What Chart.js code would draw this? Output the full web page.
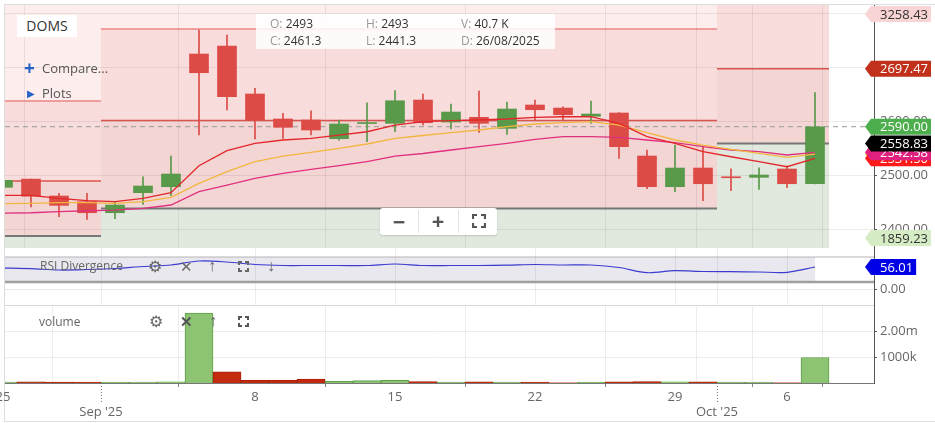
<!DOCTYPE html>
<html>
<head>
<meta charset="utf-8">
<script src="https://cdn.jsdelivr.net/npm/chart.js@4.4.1/dist/chart.umd.min.js"></script>
<style>
  body { margin: 0; background: #fff; font-family: "Open Sans", sans-serif; }
  #wrap { position: relative; width: 935px; height: 423px; overflow: hidden; }
  #frame { position: absolute; left: 4px; top: 4px; width: 940px; height: 416px;
           border-left: 1px solid #ddd; border-top: 1px solid #ddd; border-bottom: 1px solid #ddd; }
  canvas { position: absolute; left: 0; }
  .ov { position: absolute; white-space: nowrap; }
  .ov svg { display: block; }
  .sym { color: #666; }
</style>
</head>
<body>
<div id="wrap">
  <div id="frame"></div>
  <canvas id="priceChart" width="935" height="250" style="top:0"></canvas>
  <canvas id="rsiChart" width="935" height="57" style="top:248px"></canvas>
  <canvas id="volChart" width="935" height="125" style="top:298px"></canvas>

  <!-- overlays -->
  <div class="ov" style="left:17px;top:15px;width:60px;height:22px;background:#fff;text-align:center;line-height:22px;font-size:14px;color:#333">DOMS</div>
  <div class="ov" style="left:24px;top:57px;line-height:22px;font-size:19px;color:#2563c9;font-weight:bold">+</div>
  <div class="ov" style="left:42px;top:58px;line-height:20px;font-size:13px;color:#555">Compare...</div>
  <div class="ov" style="left:27px;top:84px;line-height:18px;font-size:10px;color:#2563c9">&#9654;</div>
  <div class="ov" style="left:42px;top:83px;line-height:20px;font-size:13px;color:#555">Plots</div>

  <div class="ov" style="left:256px;top:14px;width:299px;height:35px;background:rgba(255,255,255,0.85)"></div>
  <div class="ov" style="left:270px;top:16px;line-height:16px;font-size:12px"><span style="color:#999">O:</span> <span style="color:#333">2493</span></div>
  <div class="ov" style="left:366px;top:16px;line-height:16px;font-size:12px"><span style="color:#999">H:</span> <span style="color:#333">2493</span></div>
  <div class="ov" style="left:461px;top:16px;line-height:16px;font-size:12px"><span style="color:#999">V:</span> <span style="color:#333">40.7 K</span></div>
  <div class="ov" style="left:270px;top:33px;line-height:16px;font-size:12px"><span style="color:#999">C:</span> <span style="color:#333">2461.3</span></div>
  <div class="ov" style="left:366px;top:33px;line-height:16px;font-size:12px"><span style="color:#999">L:</span> <span style="color:#333">2441.3</span></div>
  <div class="ov" style="left:461px;top:33px;line-height:16px;font-size:12px"><span style="color:#999">D:</span> <span style="color:#333">26/08/2025</span></div>

  <div class="ov" style="left:380px;top:208px;width:117px;height:27px;background:#fff;border-radius:3px;box-shadow:0 1px 2px rgba(0,0,0,0.15)"></div>
  <div class="ov" style="left:418px;top:210px;width:1px;height:23px;background:#e4e4e4"></div>
  <div class="ov" style="left:458px;top:210px;width:1px;height:23px;background:#e4e4e4"></div>
  <div class="ov" style="left:390px;top:208px;width:18px;line-height:27px;font-size:22px;font-weight:bold;color:#555;text-align:center">&minus;</div>
  <div class="ov" style="left:429px;top:207px;width:18px;line-height:27px;font-size:22px;font-weight:bold;color:#555;text-align:center">+</div>
  <div class="ov" style="left:472px;top:214px"><svg width="14" height="14" viewBox="0 0 14 14"><path d="M1 5V1h4M9 1h4v4M13 9v4H9M5 13H1V9" fill="none" stroke="#555" stroke-width="2.2"/></svg></div>

  <div class="ov" style="left:40px;top:258px;line-height:16px;font-size:12px;color:#666">RSI Divergence</div>
  <div class="ov sym" style="left:148px;top:257px;line-height:18px;font-size:16px">&#9881;</div>
  <div class="ov sym" style="left:180px;top:257px;line-height:18px;font-size:15px">&#10005;</div>
  <div class="ov sym" style="left:208px;top:256px;line-height:18px;font-size:16px">&#8593;</div>
  <div class="ov" style="left:238px;top:261px"><svg width="11" height="11" viewBox="0 0 11 11"><path d="M1 4V1h3M7 1h3v3M10 7v3H7M4 10H1V7" fill="none" stroke="#666" stroke-width="2"/></svg></div>
  <div class="ov sym" style="left:267px;top:256px;line-height:18px;font-size:16px">&#8595;</div>

  <div class="ov" style="left:39px;top:314px;line-height:16px;font-size:12px;color:#666">volume</div>
  <div class="ov sym" style="left:149px;top:312px;line-height:18px;font-size:16px">&#9881;</div>
  <div class="ov" style="left:180px;top:312px;line-height:18px;font-size:15px;color:#555;font-weight:bold">&#10005;</div>
  <div class="ov sym" style="left:209px;top:311px;line-height:18px;font-size:16px">&#8593;</div>
  <div class="ov" style="left:238px;top:316px"><svg width="11" height="11" viewBox="0 0 11 11"><path d="M1 4V1h3M7 1h3v3M10 7v3H7M4 10H1V7" fill="none" stroke="#555" stroke-width="2"/></svg></div>
</div>

<script>
// DOMS daily candles, 25 Aug - 7 Oct 2025 (trading days only)
const days = ['25','26','28','29','1','2','3','4','5','8','9','10','11','12','15','16','17','18','19','22','23','24','25','26','29','30','1','3','6','7'];
const openP  = [2477.8,2493,2461.7,2451.1,2430.7,2467.8,2478.9,2724.6,2739.4,2650.6,2604.3,2602.4,2567.8,2595.8,2596.3,2639.4,2598.7,2607.4,2587,2630.2,2624.6,2609.3,2615.4,2535.7,2478.9,2513.5,2497,2496.3,2511.7,2484.4];
const highP  = [2493,2493,2466.7,2466.7,2451.1,2497.4,2535.7,2769,2759.8,2661,2614.8,2619.6,2602.4,2634.4,2656.7,2650.6,2632,2656.1,2635.7,2639.4,2627,2637.6,2616,2546.9,2556.1,2553,2512.2,2514,2517.2,2653];
const lowP   = [2475,2441.3,2423.3,2418.5,2419.6,2446.3,2462.2,2574.6,2620.9,2567.2,2568.5,2574.6,2565,2562.2,2580.7,2593.1,2585.7,2579.6,2575.9,2602.4,2602.4,2596.3,2531.5,2475.2,2469.6,2453,2471.5,2474,2477,2484];
const closeP = [2490.7,2461.3,2444.4,2430.7,2445,2480.2,2502.4,2690,2645.6,2602.4,2588.9,2583.9,2595,2597.4,2638.1,2597.4,2617.2,2596.3,2622.8,2621.5,2612.2,2613.5,2553,2478.9,2513.5,2484.4,2495.5,2500.6,2484.4,2590];
const volumes = [40000,40700,35000,40000,35000,40000,45000,2690000,430000,100000,100000,150000,60000,90000,100000,50000,40000,45000,40000,40000,10000,35000,45000,50000,45000,45000,40000,40000,10000,980000];

// moving averages
const emaFast = [2463,2463,2457.4,2453,2451.1,2457.4,2467.8,2517.8,2545.6,2559.3,2565.4,2568.5,2574.6,2580.7,2593.1,2599.3,2601.1,2602.4,2604.3,2607.4,2608.5,2608.5,2596.3,2571.5,2559.3,2543.7,2534.4,2525.2,2515.9,2531.5];
const emaMid  = [2447.5,2448.1,2449.3,2449.3,2448.1,2451.1,2459.3,2485.2,2506.7,2525.2,2535.7,2542.6,2550,2558,2568.5,2573.7,2578.9,2583.9,2590,2595,2597.4,2599.3,2593.1,2578.9,2565.4,2556.1,2548.1,2540.7,2533.3,2539.4];
const emaSlow = [2430,2430.7,2432.6,2434.4,2435.7,2438.9,2445,2469.6,2482,2494.4,2503.7,2511.1,2517.8,2525.2,2535.7,2540.4,2546.9,2553,2559.3,2566.7,2571.5,2571.5,2570.4,2565.4,2560.4,2553,2546.9,2543.7,2537.6,2542.58];
const rsiVals = [53.4,51.7,48.3,49.6,52.2,57.3,61.1,71.2,68.7,62.3,59.8,59.8,59.8,59.8,63.6,59.8,59.8,59.8,60.5,62.3,61.1,61.1,54.7,41.5,46.6,44.5,44,43.3,42.5,56.01];

// monthly pivot zones (index ranges) and levels
const zoneFrom = [-1, 3.5, 25.5];
const zoneTo   = [3.5, 25.5, 29.5];
const zoneTop  = [2637.6, 2770.9, 3258.43];
const zoneMid  = [2489.4, 2601.5, 2697.47];
const zoneLow  = [2387.6, 2438.5, 2558.83];
const supportLevel = 1859.23;

// axis ticks
const weekTickIdx = [0, 9, 14, 19, 24, 28];
const monthIdx = [3.5, 25.5];
const monthLabels = ["Sep '25", "Oct '25"];
const priceTicks = [2400, 2500, 2600, 2700, 2800];
const volTicks = [1000000, 2000000];

const GREEN = '#58994a', RED = '#dd4b47';
const X_MIN = 2 / 28, X_MAX = 2 / 28 + 869 / 28;
const AXIS_W = 61;
const FONT = { family: '"Open Sans", sans-serif', size: 13 };
const GRID = 'rgba(0,0,0,0.07)';

Chart.defaults.font.family = '"Open Sans", sans-serif';

const idx = days.map((d, i) => i);
const candleColors = idx.map(i => closeP[i] >= openP[i] ? GREEN : RED);
const volColors = idx.map(i => (i === 0 || closeP[i] >= closeP[i - 1]) ? '#8cc474' : '#c42a0e');
const volBorders = idx.map(i => (i === 0 || closeP[i] >= closeP[i - 1]) ? '#5e9e48' : '#a82008');
const gridIdx = monthIdx.concat(weekTickIdx.slice(1)).sort((a, b) => a - b);

// keep chart areas aligned: no automatic label padding
function noPad(s) { s.paddingTop = 0; s.paddingBottom = 0; s.paddingLeft = 0; s.paddingRight = 0; }

function drawTag(ctx, axisX, yc, text, bg, fg) {
  ctx.font = '13px "Open Sans", sans-serif';
  const w = ctx.measureText(text).width;
  const h = 16;
  ctx.fillStyle = bg;
  ctx.beginPath();
  ctx.moveTo(axisX - 9, yc);
  ctx.lineTo(axisX - 3, yc - h / 2);
  ctx.lineTo(axisX + w + 9, yc - h / 2);
  ctx.lineTo(axisX + w + 9, yc + h / 2);
  ctx.lineTo(axisX - 3, yc + h / 2);
  ctx.closePath();
  ctx.fill();
  ctx.fillStyle = fg;
  ctx.textAlign = 'left';
  ctx.textBaseline = 'middle';
  ctx.fillText(text, axisX + 6, yc + 1);
}

function xScaleHidden(ticks) {
  return {
    type: 'linear', min: X_MIN, max: X_MAX, offset: false,
    afterBuildTicks: s => { s.ticks = ticks.map(v => ({ value: v })); },
    ticks: { display: false },
    grid: { color: GRID, drawTicks: false },
    border: { display: false },
    afterFit: s => { s.height = 0; noPad(s); }
  };
}

function yScale(min, max, ticks, fmt, gridColor) {
  return {
    position: 'right', min: min, max: max,
    afterBuildTicks: s => { s.ticks = ticks.map(v => ({ value: v })); },
    ticks: { callback: fmt, color: '#666', font: FONT, padding: 3 },
    grid: { color: gridColor || GRID, tickLength: 3, tickColor: '#555' },
    border: { color: '#555' },
    afterFit: s => { s.width = AXIS_W; noPad(s); }
  };
}

// ---- price panel ----
const zonePlugin = {
  id: 'zones',
  beforeDraw(chart) {
    const { ctx, chartArea: a, scales: { x, y } } = chart;
    ctx.save();
    ctx.beginPath(); ctx.rect(a.left, a.top, a.right - a.left, a.bottom - a.top); ctx.clip();
    zoneFrom.forEach((f, k) => {
      const x0 = x.getPixelForValue(f), x1 = x.getPixelForValue(zoneTo[k]);
      const yT = y.getPixelForValue(zoneTop[k]), yM = y.getPixelForValue(zoneMid[k]), yL = y.getPixelForValue(zoneLow[k]);
      const band = (y0, y1, c) => { ctx.fillStyle = c; ctx.fillRect(x0, y0, x1 - x0, y1 - y0); };
      band(a.top, yT, '#fdeded');
      band(yT, yM, '#f9dcdc');
      band(yM, yL, '#f3d6d4');
      band(yL, a.bottom, '#e1e9df');
    });
    ctx.restore();
  },
  beforeDatasetsDraw(chart) {
    const { ctx, chartArea: a, scales: { x, y } } = chart;
    ctx.save();
    ctx.beginPath(); ctx.rect(a.left, a.top, a.right - a.left, a.bottom - a.top); ctx.clip();
    zoneFrom.forEach((f, k) => {
      const x0 = x.getPixelForValue(f), x1 = x.getPixelForValue(zoneTo[k]);
      const hline = (v, c, w) => {
        const yy = y.getPixelForValue(v);
        ctx.strokeStyle = c; ctx.lineWidth = w;
        ctx.beginPath(); ctx.moveTo(x0, yy); ctx.lineTo(x1, yy); ctx.stroke();
      };
      hline(zoneTop[k], '#ec8585', 1.5);
      hline(zoneMid[k], '#d9534f', 1.5);
      hline(zoneLow[k], '#777', 2);
    });
    // last price line
    const yp = y.getPixelForValue(closeP[closeP.length - 1]);
    ctx.strokeStyle = '#999'; ctx.lineWidth = 1; ctx.setLineDash([5, 4]);
    ctx.beginPath(); ctx.moveTo(a.left, yp); ctx.lineTo(a.right, yp); ctx.stroke();
    ctx.restore();
  },
  afterDraw(chart) {
    const { ctx, chartArea: a, scales: { y } } = chart;
    const clampY = v => Math.min(a.bottom - 10, Math.max(a.top + 9, y.getPixelForValue(v)));
    const last = closeP.length - 1;
    const tags = [
      [supportLevel, '#d6ecc4', '#333'],
      [zoneTop[2], '#f9d4d4', '#333'],
      [zoneMid[2], '#c0301a', '#fff'],
      [emaMid[last], '#f2b640', '#fff'],
      [emaFast[last], '#ff1a1a', '#fff'],
      [emaSlow[last], '#e0207f', '#fff'],
      [zoneLow[2], '#000', '#fff'],
      [closeP[last], '#4cae4c', '#fff']
    ];
    tags.forEach(t => drawTag(ctx, a.right, clampY(t[0]), t[0].toFixed(2), t[1], t[2]));
  }
};

new Chart(document.getElementById('priceChart'), {
  type: 'bar',
  data: {
    datasets: [
      { type: 'line', label: 'EMA fast', data: idx.map(i => ({ x: i, y: emaFast[i] })), borderColor: '#e3262a', borderWidth: 1.3, pointRadius: 0, tension: 0, order: 1 },
      { type: 'line', label: 'EMA mid', data: idx.map(i => ({ x: i, y: emaMid[i] })), borderColor: '#f2b640', borderWidth: 1.3, pointRadius: 0, tension: 0, order: 1 },
      { type: 'line', label: 'EMA slow', data: idx.map(i => ({ x: i, y: emaSlow[i] })), borderColor: '#e0307f', borderWidth: 1.3, pointRadius: 0, tension: 0, order: 1 },
      { label: 'wick', data: idx.map(i => ({ x: i, y: [lowP[i], highP[i]] })), backgroundColor: candleColors, barThickness: 1, grouped: false, order: 3 },
      { label: 'body', data: idx.map(i => ({ x: i, y: [openP[i], closeP[i]] })), backgroundColor: candleColors, barThickness: 19, minBarLength: 1, grouped: false, order: 2 }
    ]
  },
  options: {
    responsive: false,
    animation: false,
    layout: { padding: { left: 5, top: 5, bottom: 2, right: 0 } },
    plugins: { legend: { display: false }, tooltip: { enabled: false } },
    scales: {
      x: xScaleHidden(gridIdx),
      y: yScale(2365.4, 2815.4, priceTicks, v => v.toFixed(2))
    }
  },
  plugins: [zonePlugin]
});

// ---- RSI panel ----
const rsiPanelTop = 81.4, rsiPanelBottom = 17.8;
const rsiPlugin = {
  id: 'rsiPanel',
  beforeDraw(chart) {
    const { ctx, chartArea: a, scales: { x, y } } = chart;
    const yT = y.getPixelForValue(rsiPanelTop), yB = y.getPixelForValue(rsiPanelBottom);
    ctx.save();
    ctx.fillStyle = '#e8e8ee';
    ctx.fillRect(a.left, yT, x.getPixelForValue(rsiVals.length - 1) - a.left, yB - yT);
    ctx.restore();
  },
  beforeDatasetsDraw(chart) {
    const { ctx, chartArea: a, scales: { y } } = chart;
    const yT = y.getPixelForValue(rsiPanelTop), yB = y.getPixelForValue(rsiPanelBottom);
    ctx.save();
    ctx.strokeStyle = '#b5b5b5'; ctx.lineWidth = 1;
    ctx.beginPath(); ctx.moveTo(a.left, yT); ctx.lineTo(a.right, yT); ctx.stroke();
    ctx.strokeStyle = '#a0a0a0'; ctx.lineWidth = 2.5;
    ctx.beginPath(); ctx.moveTo(a.left, yB); ctx.lineTo(a.right, yB); ctx.stroke();
    ctx.restore();
  },
  afterDraw(chart) {
    const { ctx, chartArea: a, scales: { y } } = chart;
    const v = rsiVals[rsiVals.length - 1];
    drawTag(ctx, a.right, y.getPixelForValue(v), v.toFixed(2), '#0000e6', '#fff');
  }
};

new Chart(document.getElementById('rsiChart'), {
  type: 'line',
  data: {
    datasets: [{ label: 'RSI Divergence', data: idx.map(i => ({ x: i, y: rsiVals[i] })), borderColor: '#3b3bd0', borderWidth: 1.2, pointRadius: 0, tension: 0.3 }]
  },
  options: {
    responsive: false,
    animation: false,
    layout: { padding: { left: 5, top: 0, bottom: 0, right: 0 } },
    plugins: { legend: { display: false }, tooltip: { enabled: false } },
    scales: {
      x: xScaleHidden(gridIdx),
      y: yScale(-40.7, 104.3, [0], v => v.toFixed(2), 'rgba(0,0,0,0.09)')
    }
  },
  plugins: [rsiPlugin]
});

// ---- volume panel ----
const xLabels = {};
weekTickIdx.forEach(i => { xLabels[i] = days[i]; });
monthIdx.forEach((m, k) => { xLabels[m] = ['', monthLabels[k]]; });

const volPlugin = {
  id: 'volFrame',
  afterDraw(chart) {
    const { ctx, chartArea: a, scales: { x } } = chart;
    ctx.save();
    ctx.strokeStyle = '#d8d8d8'; ctx.lineWidth = 1;
    ctx.beginPath(); ctx.moveTo(a.left, a.top + 0.5); ctx.lineTo(a.right, a.top + 0.5); ctx.stroke();
    ctx.strokeStyle = '#777'; ctx.setLineDash([1, 2]);
    monthIdx.forEach(m => {
      const xx = Math.round(x.getPixelForValue(m)) + 0.5;
      ctx.beginPath(); ctx.moveTo(xx, a.bottom); ctx.lineTo(xx, a.bottom + 20); ctx.stroke();
    });
    ctx.restore();
  }
};

new Chart(document.getElementById('volChart'), {
  type: 'bar',
  data: {
    datasets: [{ label: 'volume', data: idx.map(i => ({ x: i, y: volumes[i] })), backgroundColor: volColors, borderColor: volBorders, borderWidth: 1, barThickness: 28 }]
  },
  options: {
    responsive: false,
    animation: false,
    layout: { padding: { left: 5, top: 7, bottom: 0, right: 0 } },
    plugins: { legend: { display: false }, tooltip: { enabled: false } },
    scales: {
      x: {
        type: 'linear', min: X_MIN, max: X_MAX, offset: false,
        afterBuildTicks: s => { s.ticks = Object.keys(xLabels).map(Number).sort((a, b) => a - b).map(v => ({ value: v })); },
        ticks: { callback: v => xLabels[v], color: '#666', font: FONT, autoSkip: false, maxRotation: 0, minRotation: 0, padding: 2 },
        grid: { color: c => (c.tick && c.tick.value === 0) ? 'rgba(0,0,0,0)' : GRID, tickLength: 4, tickColor: c => (c.tick && monthIdx.includes(c.tick.value)) ? 'rgba(0,0,0,0)' : '#888' },
        border: { color: '#777' },
        afterFit: s => { s.height = 40; noPad(s); }
      },
      y: yScale(0, 3000000, volTicks, v => v < 1500000 ? (v / 1000) + 'k' : (v / 1e6).toFixed(2) + 'm')
    }
  },
  plugins: [volPlugin]
});
</script>
</body>
</html>
